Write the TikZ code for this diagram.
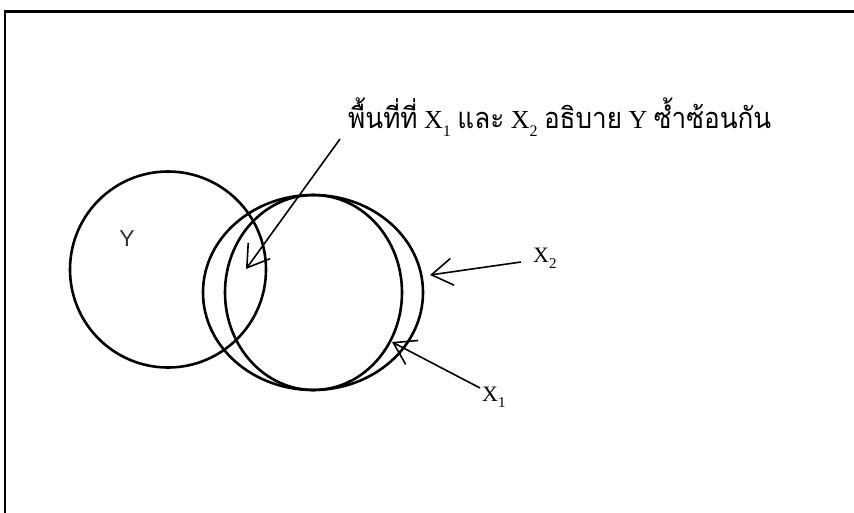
\documentclass[tikz,border=0pt]{standalone}
\usepackage{fontspec}
\setmainfont{Liberation Serif}
\newfontfamily\thaifont[Script=Thai,FakeStretch=0.9]{Loma}
\newfontfamily\labelsans{Liberation Sans}
\usetikzlibrary{arrows.meta}
\newcommand{\thx}[1]{{\thaifont\fontsize{29}{34}\selectfont #1}}
\newcommand{\subA}[1]{\raisebox{-8pt}{\fontsize{16}{16}\selectfont #1}}
\newcommand{\subB}[1]{\raisebox{-6pt}{\fontsize{15}{15}\selectfont #1}}
\begin{document}
\begin{tikzpicture}[x=1pt,y=-1pt,
  ring/.style={line width=2.6pt},
  frameline/.style={line width=2.4pt},
  pointer/.style={line width=1.6pt,-{Straight Barb[length=21pt,width=27pt,line width=1.6pt]}},
  maintext/.style={anchor=base west,inner sep=0pt,font=\fontsize{26}{30}\selectfont},
  xlabel/.style={anchor=base west,inner sep=0pt,font=\fontsize{22}{24}\selectfont},
  ylabel/.style={inner sep=0pt,text=black!80,font=\labelsans\fontsize{23}{24}\selectfont}]
\useasboundingbox (0,0) rectangle (854,512);
% frame (partly cut off at right and bottom)
\draw[frameline] (5,520) -- (5,11.5) -- (870,11.5);
% circles
\draw[ring] (168,269.5) circle[radius=98];
\draw[ring] (313,292.5) ellipse[x radius=110,y radius=97.5];
\draw[ring] (313.5,292.5) ellipse[x radius=88.5,y radius=97.5];
% labels
\node[ylabel] (ylab) at (127,239) {Y};
\node[maintext] (title) at (348,128) {\thx{พื้นที่ที่} X\subA{1} \thx{และ} X\subA{2} \thx{อธิบาย} Y \thx{ซ้ำซ้อนกัน}};
\node[xlabel] (lx2) at (533,262) {X\subB{2}};
\node[xlabel] (lx1) at (482,401) {X\subB{1}};
% connector ends
\coordinate (s0) at (340,139);
\coordinate (t0) at (246,269);
\coordinate (s2) at (521,262);
\coordinate (t2) at (430,275);
\coordinate (s1) at (480,388);
\coordinate (t1) at (392,342);
\draw[pointer] (s0) -- (t0);
\draw[pointer] (s2) -- (t2);
\draw[pointer] (s1) -- (t1);
\end{tikzpicture}
\end{document}
